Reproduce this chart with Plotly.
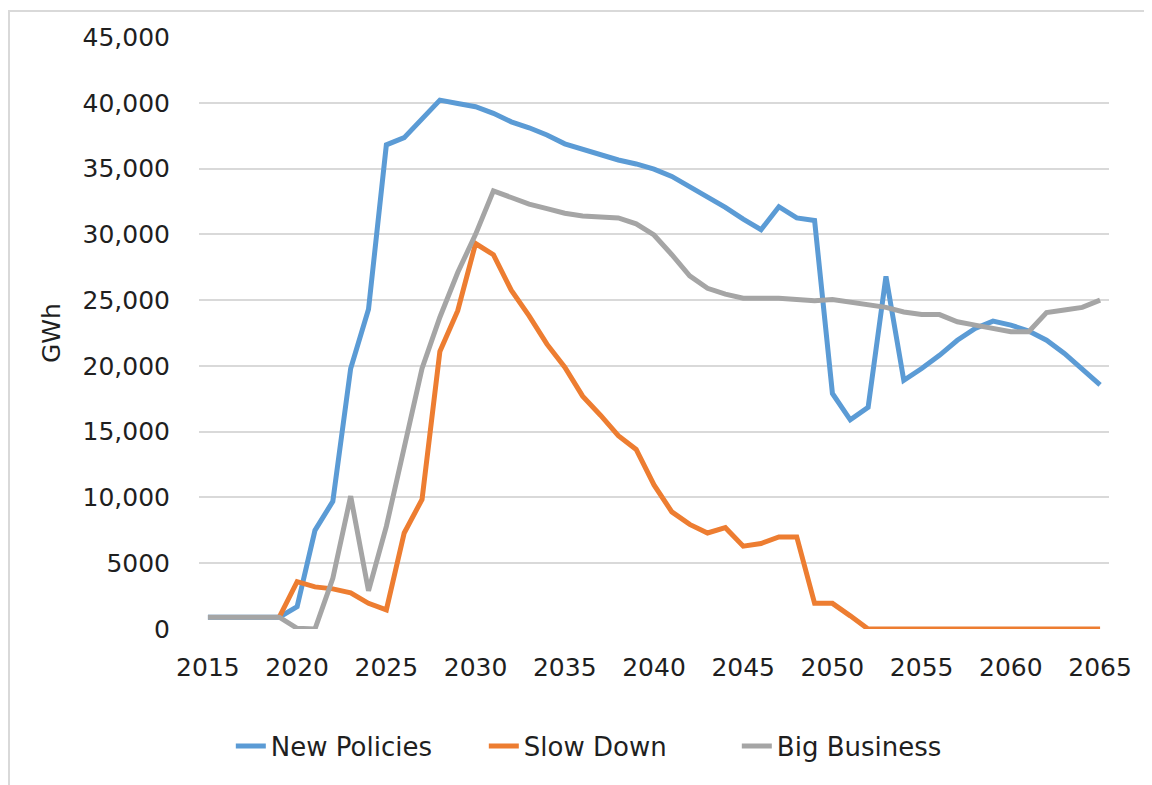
import plotly.graph_objects as go

years = list(range(2015, 2066))

new_policies = [
    900, 900, 900, 900, 900, 1700, 7500, 9700, 19800, 24300,
    36800, 37350, 38800, 40200, 39950, 39700, 39200, 38550, 38100, 37550,
    36880, 36450, 36000, 35650, 35350, 34950, 34400, 33650, 32800, 32050,
    31150, 30350, 32100, 31250, 31050, 17900, 15900, 16850, 26800, 18900,
    19800, 20800, 21950, 22850, 23400, 23100, 22650, 21950, 20950, 19800,
    18550,
]

slow_down = [
    None, None, None, None, 900, 3600, 3200, 3050, 2750, 1950,
    1450, 7300, 9850, 21100, 24200, 29300, 28450, 25750, 23800, 21650,
    19900, 17700, 16250, 14700, 13650, 10950, 8900, 7950, 7300, 7700,
    6300, 6500, 7000, 7000, 1950, 1950, 1000, 0, 0, 0,
    0, 0, 0, 0, 0, 0, 0, 0, 0, 0,
    0,
]

big_business = [
    900, 900, 900, 900, 900, 50, 0, 3850, 10100, 2900,
    7800, 13800, 19800, 23700, 27100, 30000, 33300, 32800, 32300, 31950,
    31600, 31400, 31300, 31250, 30800, 29950, 28450, 26850, 25900, 25450,
    25150, 25150, 25150, 25050, 24950, 25050, 24850, 24700, 24450, 24100,
    23900, 23900, 23350, 23100, 22850, 22600, 22600, 24050, 24250, 24450,
    25000,
]

series = [
    ("New Policies", new_policies, "#5B9BD5"),
    ("Slow Down", slow_down, "#ED7D31"),
    ("Big Business", big_business, "#A5A5A5"),
]

y_ticks = [0, 5000, 10000, 15000, 20000, 25000, 30000, 35000, 40000, 45000]
y_labels = ["0", "5000", "10,000", "15,000", "20,000", "25,000",
            "30,000", "35,000", "40,000", "45,000"]
x_ticks = list(range(2015, 2066, 5))

font_family = "DejaVu Sans"
text_color = "#1f1f1f"

fig = go.Figure()

# one line per scenario (gray drawn last so it sits on top)
for name, values, color in series:
    fig.add_trace(
        go.Scatter(
            x=years,
            y=values,
            name=name,
            mode="lines",
            line=dict(color=color, width=5),
        )
    )

fig.update_xaxes(
    range=[2014.5, 2065.5],
    tickmode="array",
    tickvals=x_ticks,
    showgrid=False,
    zeroline=False,
    showline=False,
    ticks="",
    ticklabelstandoff=21,
    tickfont=dict(family=font_family, size=25, color=text_color),
)

fig.update_yaxes(
    range=[0, 45000],
    tickmode="array",
    tickvals=y_ticks,
    ticktext=y_labels,
    showgrid=True,
    gridcolor="#d9d9d9",
    gridwidth=2,
    zeroline=False,
    showline=False,
    ticks="",
    ticklabelstandoff=28,
    tickfont=dict(family=font_family, size=25, color=text_color),
)

# axis title placed by hand
fig.add_annotation(
    text="GWh",
    xref="paper", yref="paper",
    x=-0.1626, y=0.5,
    xanchor="center", yanchor="middle",
    textangle=-90,
    showarrow=False,
    font=dict(family=font_family, size=25, color=text_color),
)

# chart border (only top and left fall inside the picture)
fig.add_shape(
    type="rect",
    xref="paper", yref="paper",
    x0=-0.2088, y0=-0.3, x1=1.06, y1=1.0439,
    line=dict(color="#d9d9d9", width=2),
    layer="below",
)

# the page body adds an 8px offset, so the figure is 8px smaller
fig.update_layout(
    autosize=False,
    width=1144,
    height=777,
    margin=dict(l=191, r=43, t=29, b=156),
    plot_bgcolor="white",
    paper_bgcolor="white",
    showlegend=True,
    legend=dict(
        orientation="h",
        x=0.452,
        xanchor="center",
        y=-0.198,
        yanchor="middle",
        font=dict(family=font_family, size=26, color=text_color),
        entrywidth=208,
        traceorder="normal",
    ),
)

fig.write_html("out.html")
